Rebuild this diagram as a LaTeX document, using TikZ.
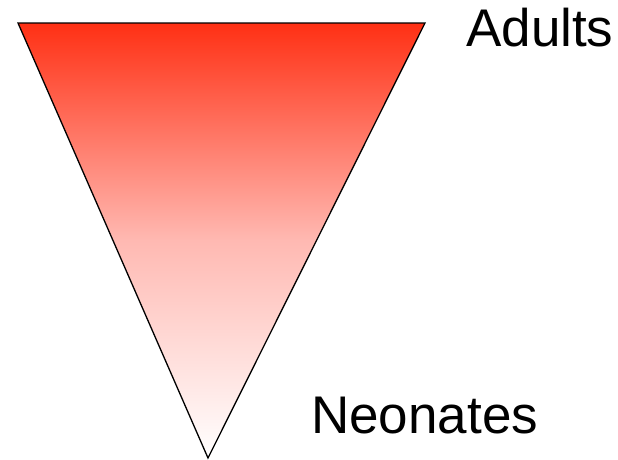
\documentclass[tikz,border=0pt]{standalone}
\usepackage{fontspec}
\setmainfont{Liberation Sans}
\definecolor{topred}{RGB}{255,48,20}
\definecolor{midpink}{RGB}{255,185,178}
\tikzset{
  funnel/.style={draw=black, line width=1.3pt, line join=miter, top color=topred, bottom color=white, middle color=midpink},
  lbl/.style={anchor=base west, inner sep=0pt, font=\fontsize{53}{64}\selectfont}
}
\begin{document}
\begin{tikzpicture}[x=1pt,y=-1pt]
\useasboundingbox (0,0) rectangle (618,459);
\coordinate (tl) at (18,23);
\coordinate (tr) at (425,23);
\coordinate (bt) at (208,458);
\path[funnel] (tl) -- (tr) -- (bt) -- cycle;
\node[lbl] (adults) at (466,46) {Adults};
\node[lbl] (neonates) at (311,433) {Neonates};
\end{tikzpicture}
\end{document}
